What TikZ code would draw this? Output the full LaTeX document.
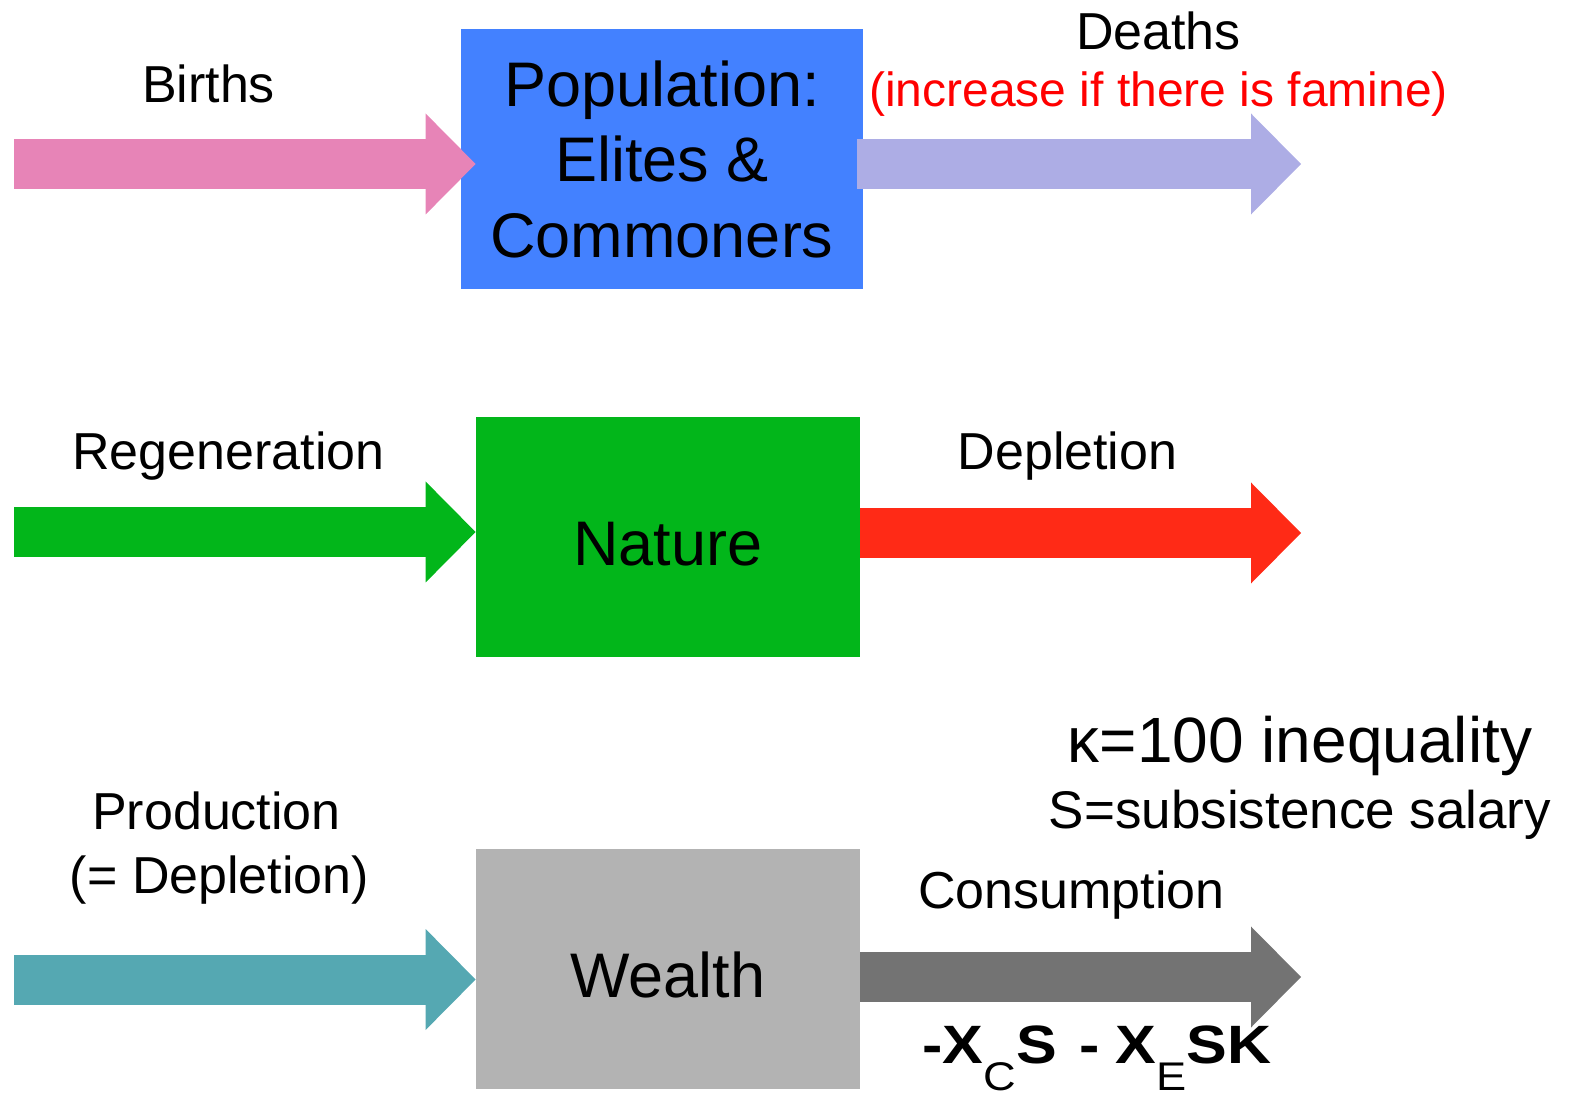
\documentclass[tikz,border=0pt]{standalone}
\usepackage{fontspec}
\setmainfont{Liberation Sans}
\usepackage{xcolor}
\usetikzlibrary{arrows.meta}
\definecolor{popblue}{HTML}{4381FF}
\definecolor{natgreen}{HTML}{02B61A}
\definecolor{weagray}{HTML}{B3B3B3}
\definecolor{birthpink}{HTML}{E784B7}
\definecolor{deathlav}{HTML}{ADADE5}
\definecolor{deplred}{HTML}{FF2A16}
\definecolor{prodteal}{HTML}{55A8B2}
\definecolor{consgray}{HTML}{737373}
\definecolor{famred}{HTML}{FF0000}
\newcommand{\lowsub}[1]{\raisebox{-13.5pt}{\fontsize{20}{20}\selectfont\mdseries #1}}

\begin{document}
\begin{tikzpicture}[
      x=0.5pt, y=-0.5pt,
      stock/.style={inner sep=0pt, align=center,
                    font=\fontsize{31.5}{37.75}\selectfont},
      low/.style={text height=29pt, text depth=0pt},
      flow/.style={line width=25pt,
                   -{Triangle[length=25pt, width=50.5pt, line width=0pt]}},
      lbl/.style={anchor=base, inner sep=0pt, font=\fontsize{26}{32}\selectfont},
    ]
    \useasboundingbox (0,0) rectangle (1570,1096);

    % stocks
    \node[stock, fill=popblue, minimum width=201pt, minimum height=130pt]
      (pop) at (662,159) {Population:\\Elites \&\\Commoners};
    \node[stock, low, fill=natgreen, minimum width=192pt, minimum height=120pt]
      (nat) at (668,537) {Nature};
    \node[stock, low, fill=weagray, minimum width=192pt, minimum height=120pt]
      (wea) at (668,968.5) {Wealth};

    % free ends of the flows
    \coordinate (birthsIn)  at (14,164);
    \coordinate (deathsOut) at (1301,164);
    \coordinate (regenIn)   at (14,532);
    \coordinate (deplOut)   at (1301,533);
    \coordinate (prodIn)    at (14,979.5);
    \coordinate (consOut)   at (1301,977);

    \draw[flow, birthpink] (birthsIn) -- ([xshift=7.5pt]birthsIn -| pop.west);
    \draw[flow, deathlav] ([xshift=-3pt]pop.east |- deathsOut) -- (deathsOut);
    \draw[flow, natgreen] (regenIn) -- (regenIn -| nat.west);
    \draw[flow, deplred] (nat.east |- deplOut) -- (deplOut);
    \draw[flow, prodteal] (prodIn) -- (prodIn -| wea.west);
    \draw[flow, consgray] (wea.east |- consOut) -- (consOut);

    % flow labels
    \node[lbl] (births) at (208.5,103) {Births};
    \node[lbl] (deaths) at (1158.5,50) {Deaths};
    \node[lbl, text=famred, font=\fontsize{24}{30}\selectfont]
      (famine) at (1158.5,107) {(increase if there is famine)};
    \node[lbl] (regen) at (228.5,470) {Regeneration};
    \node[lbl] (depl) at (1067.5,470) {Depletion};
    \node[lbl] (prod) at (216.5,829) {Production};
    \node[lbl] (prodeq) at (219.5,893) {(= Depletion)};
    \node[lbl] (cons) at (1071.5,908) {Consumption};
    \node[lbl, font=\fontsize{27}{32}\selectfont\bfseries]
      (cost) at (1097,1063)
      {\scalebox{1.13}[1]{-X\lowsub{C}S\hspace{10pt}-\hspace{7pt}X\lowsub{E}SK}};

    % parameters
    \node[lbl, font=\fontsize{32}{38}\selectfont] (kappa) at (1300,762) {κ=100 inequality};
    \node[lbl, font=\fontsize{26.5}{32}\selectfont] (salary) at (1300,828) {S=subsistence salary};
  \end{tikzpicture}
\end{document}
